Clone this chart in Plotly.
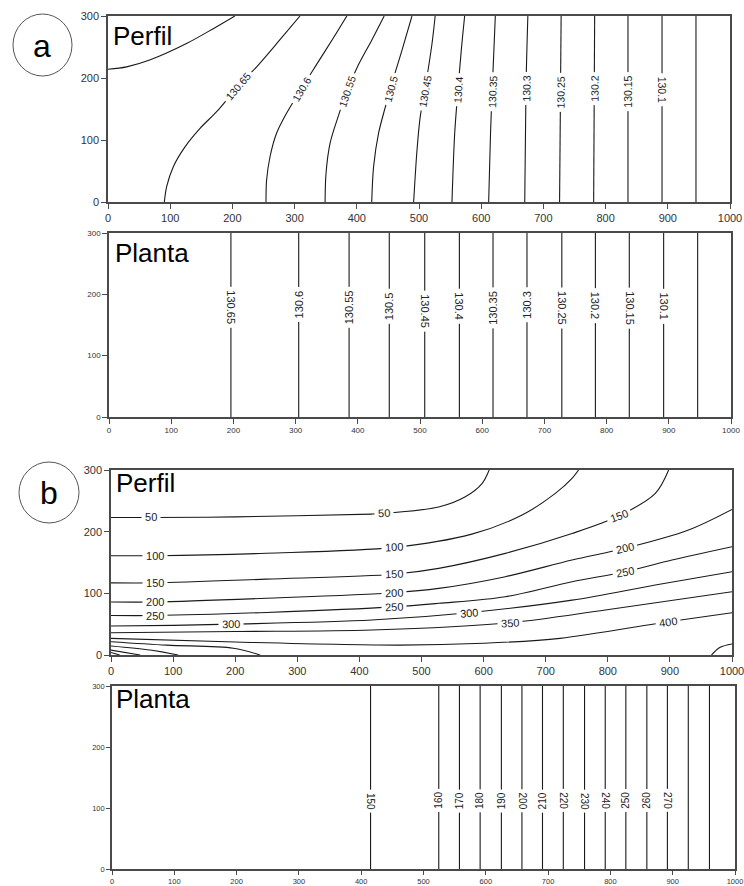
import math
import plotly.graph_objects as go

# ---------------- data ----------------
TICKS_X = [0, 100, 200, 300, 400, 500, 600, 700, 800, 900, 1000]
TICKS_Y = [0, 100, 200, 300]

# a) Perfil : contour lines (model x, y)
A1_LEVELS = ["130.7", "130.65", "130.6", "130.55", "130.5", "130.45", "130.4",
             "130.35", "130.3", "130.25", "130.2", "130.15", "130.1", "130.05"]
A1_X = [
    [0, 30, 67, 127, 170, 204],
    [90.6, 94.3, 105, 123.8, 148, 174.7, 209.5, 239, 273.8, 308.7],
    [254, 255, 260.5, 271, 287, 311, 338, 362, 384],
    [349, 350.5, 357, 370, 383.7, 403, 424, 444],
    [424, 427, 435, 446, 454, 472.7, 488.7],
    [491.4, 496.8, 502, 509, 521, 526],
    [553, 557.4, 562.7, 568, 573.4],
    [612, 615, 617.6, 622.7],
    [670, 672, 675],
    [726, 728.5],
    [780.8, 782.4],
    [836, 836],
    [890.7, 890.7],
    [945.3, 945.3],
]
A1_Y = [
    [214, 218, 229, 256, 280, 300],
    [0, 24.7, 57, 89, 118.8, 145.7, 187, 218, 258.5, 300],
    [0, 35.5, 73, 110.8, 143, 183, 226, 264, 300],
    [0, 46, 94.6, 137.6, 178, 222, 261, 300],
    [0, 57, 111, 153.7, 183, 245, 300],
    [0, 84, 137.6, 178, 256, 300],
    [0, 111, 181, 245, 300],
    [0, 111, 178, 300],
    [0, 183, 300],
    [0, 300],
    [0, 300],
    [0, 300],
    [0, 300],
    [0, 300],
]
A1_LABEL_TEXT = ["130.65", "130.6", "130.55", "130.5", "130.45", "130.4",
                 "130.35", "130.3", "130.25", "130.2", "130.15", "130.1"]
A1_LABEL_X = [209.5, 311, 383.7, 454, 509, 562.7, 617.6, 672, 727.5, 781.5, 836, 890.7]
A1_LABEL_Y = [187, 183, 178, 183, 178, 181, 178, 183, 176, 183, 178, 181]

# a) Planta : vertical contour lines
A2_LEVELS = ["130.65", "130.6", "130.55", "130.5", "130.45", "130.4", "130.35",
             "130.3", "130.25", "130.2", "130.15", "130.1", "130.05"]
A2_XPOS = [196, 305, 386, 450.6, 507.6, 563.3, 617.4, 672, 728, 782, 836.5, 891.7, 946.4]
A2_LABEL_TEXT = ["130.65", "130.6", "130.55", "130.5", "130.45", "130.4",
                 "130.35", "130.3", "130.25", "130.2", "130.15", "130.1"]
A2_LABEL_X = [196, 305, 386, 450.6, 507.6, 563.3, 617.4, 672, 728, 782, 836.5, 891.7]
A2_LABEL_Y = [179, 183, 179, 181, 173, 180, 178, 183, 178, 181, 177, 181]

# b) Perfil : contour lines (model x, y)
B1_LEVELS = ["50", "100", "150", "200", "250", "300", "350", "400",
             "450", "500", "550", "600", "450"]
B1_X = [
    [0, 65, 200, 420, 439, 527.7, 570.5, 597.4, 609],
    [0, 71, 250, 455, 581, 662, 715.5, 742.4, 753],
    [0, 71, 250, 455, 527.7, 635, 742.4, 817.5, 876.5, 898],
    [0, 71, 250, 455, 527.7, 635, 742.4, 828, 930, 1000],
    [0, 71, 250, 455, 527.7, 635, 742.4, 828, 903.4, 1000],
    [0, 100, 194, 420, 576, 742.4, 876.5, 1000],
    [0, 200, 420, 643, 796, 1000],
    [0, 200, 465, 600, 723, 897.5, 1000],
    [0, 90, 197, 240],
    [0, 63, 108],
    [0, 47],
    [0, 14],
    [967, 981, 1000],
]
B1_Y = [
    [223, 223, 224, 228.5, 229.6, 240, 256.6, 278, 300],
    [161, 161, 165, 174.5, 196, 227, 262, 286.4, 300],
    [117, 117, 123, 131, 140.5, 164.8, 197, 225.3, 262, 300],
    [86, 86, 92, 101, 108, 127, 154, 173, 202.6, 236],
    [64, 64, 69, 78, 83.8, 94.5, 118.8, 135, 154, 175.5],
    [47, 48, 50, 56.7, 68.6, 89, 113.5, 135],
    [36, 38, 40.5, 52.4, 73, 102.6],
    [27, 21, 16, 19, 27, 54, 68.6],
    [21.6, 16, 11, 0],
    [14.6, 8, 0],
    [8, 0],
    [4, 0],
    [0, 12.4, 17.8],
]
B1_LABEL_TEXT = ["50", "50", "100", "100", "150", "150", "150", "200", "200", "200",
                 "250", "250", "250", "300", "300", "350", "400"]
B1_LABEL_X = [65, 439, 71, 455, 71, 455, 817.5, 71, 455, 828, 71, 455, 828, 194, 576, 643, 897.5]
B1_LABEL_Y = [223, 229.6, 161, 174.5, 117, 131, 225.3, 86, 101, 173, 64, 78, 135, 50, 68.6, 52.4, 54]

# b) Planta : vertical contour lines
B2_LEVELS = ["150", "160", "170", "180", "190", "200", "210", "220", "230",
             "240", "250", "260", "270", "280", "290"]
B2_XPOS = [415, 524.5, 557.7, 590.9, 625, 658, 691, 724.4, 758.5, 791.7, 824.8,
           858.5, 891.5, 925, 959]
B2_LABEL_TEXT = ["150", "160", "170", "180", "190", "200", "210", "220", "230",
                 "240", "250", "260", "270"]
B2_LABEL_X = [415, 524.5, 557.7, 590.9, 625, 658, 691, 724.4, 758.5, 791.7, 824.8, 858.5, 891.5]
B2_LABEL_Y = [112] * 13

# ---------------- styling ----------------
W, H = 744, 886
FONT = "Liberation Sans, Arial, sans-serif"
LINE = "#1a1a1a"


def px_x(p):
    return p / W


def px_y(p):
    return 1 - p / H


# plot boxes in screen pixels: left, right, top, bottom
BOXES = [(108, 730, 16, 202), (109, 731, 233, 417), (111, 732, 470, 655), (112, 735, 686, 869)]
TICKFONT = [11, 8, 11, 7.5]
TICKLEN = [5, 5, 5, 4]
LABFONT = [10.5, 11, 11, 10]
# reading direction of labels: True -> top-to-bottom
A1_FLIP = [False] * 11 + [True]
A2_FLIP = [True, False, False, False, True, True, False, False, True, True, True, True]
B1_FLIP = [False] * 17
B2_FLIP = [True, False, False, False, False, True, False, True, True, True, False, False, True]

fig = go.Figure()


def ax_names(i):
    return ("x" if i == 1 else f"x{i}", "y" if i == 1 else f"y{i}")


def label_angle(xs_list, ys_list, lx, ly, sx, sy):
    best = None
    for xs, ys in zip(xs_list, ys_list):
        for k in range(len(xs) - 1):
            x0, y0, x1, y1 = xs[k] * sx, ys[k] * sy, xs[k + 1] * sx, ys[k + 1] * sy
            px, py = lx * sx, ly * sy
            dx, dy = x1 - x0, y1 - y0
            L2 = dx * dx + dy * dy or 1e-9
            t = max(0, min(1, ((px - x0) * dx + (py - y0) * dy) / L2))
            d = (x0 + t * dx - px) ** 2 + (y0 + t * dy - py) ** 2
            if best is None or d < best[0]:
                best = (d, dx, dy)
    _, dx, dy = best
    ang = math.degrees(math.atan2(-dy, dx))
    while ang >= 90:
        ang -= 180
    while ang < -90:
        ang += 180
    return ang


def add_panel(i, xs_list, ys_list, ltext, lx, ly, flips, smooth):
    xa, ya = ax_names(i)
    l, r, t, b = BOXES[i - 1]
    sx, sy = (r - l) / 1000.0, (b - t) / 300.0
    for xs, ys in zip(xs_list, ys_list):
        fig.add_trace(go.Scatter(
            x=xs, y=ys, mode="lines", xaxis=xa, yaxis=ya, showlegend=False,
            hoverinfo="skip",
            line=dict(color=LINE, width=1.1, shape="spline" if smooth else "linear",
                      smoothing=0.9)))
    for txt, x, y, fl in zip(ltext, lx, ly, flips):
        ang = label_angle(xs_list, ys_list, x, y, sx, sy)
        if fl:
            ang += 180
            if ang > 180:
                ang -= 360
        fig.add_annotation(
            x=x, y=y, xref=xa, yref=ya, text="\u00a0" + txt + "\u00a0",
            showarrow=False, textangle=ang, bgcolor="white", borderpad=0,
            font=dict(family=FONT, size=LABFONT[i - 1], color="#222"),
            xanchor="center", yanchor="middle")


add_panel(1, A1_X, A1_Y, A1_LABEL_TEXT, A1_LABEL_X, A1_LABEL_Y, A1_FLIP, True)
add_panel(2, [[x, x] for x in A2_XPOS], [[0, 300] for _ in A2_XPOS],
          A2_LABEL_TEXT, A2_LABEL_X, A2_LABEL_Y, A2_FLIP, False)
add_panel(3, B1_X, B1_Y, B1_LABEL_TEXT, B1_LABEL_X, B1_LABEL_Y, B1_FLIP, True)
add_panel(4, [[x, x] for x in B2_XPOS], [[0, 300] for _ in B2_XPOS],
          B2_LABEL_TEXT, B2_LABEL_X, B2_LABEL_Y, B2_FLIP, False)

layout = dict(width=W, height=H,
              margin=dict(l=0, r=0, t=0, b=0, pad=0, autoexpand=False),
              paper_bgcolor="white", plot_bgcolor="white", autosize=False)
for i, (l, r, t, b) in enumerate(BOXES, start=1):
    xa, ya = ax_names(i)
    common = dict(showline=True, mirror=True, linecolor="#4a4a4a", linewidth=1.6,
                  ticks="outside", ticklen=TICKLEN[i - 1], tickwidth=1.3, tickcolor="#4a4a4a",
                  showgrid=False, zeroline=False, automargin=False,
                  ticklabeloverflow="allow",
                  tickfont=dict(family=FONT, size=TICKFONT[i - 1], color="#333"))
    layout["xaxis" if i == 1 else f"xaxis{i}"] = dict(
        domain=[px_x(l), px_x(r)], range=[0, 1000], anchor=ya, tickvals=TICKS_X, **common)
    layout["yaxis" if i == 1 else f"yaxis{i}"] = dict(
        domain=[px_y(b), px_y(t)], range=[0, 300], anchor=xa, tickvals=TICKS_Y, **common)
fig.update_layout(**layout)

# panel titles
for txt, (px, py) in [("Perfil", (111, 36)), ("Planta", (113, 253)),
                      ("Perfil", (114, 483)), ("Planta", (114, 699))]:
    fig.add_annotation(x=px_x(px), y=px_y(py), xref="paper", yref="paper", text=txt,
                       showarrow=False, xanchor="left", yanchor="middle",
                       font=dict(family=FONT, size=26, color="black"))

# circled letters
for txt, (x0, y0, x1, y1), (cx, cy) in [("a", (13, 14, 72, 76), (42, 46)),
                                       ("b", (19, 462, 79, 523), (49, 493))]:
    fig.add_shape(type="circle", xref="paper", yref="paper",
                  x0=px_x(x0), x1=px_x(x1), y0=px_y(y1), y1=px_y(y0),
                  line=dict(color="#555", width=1))
    fig.add_annotation(x=px_x(cx), y=px_y(cy), xref="paper", yref="paper", text=txt,
                       showarrow=False, xanchor="center", yanchor="middle",
                       font=dict(family=FONT, size=32, color="black"))

fig.write_html("out.html",
               config={"displayModeBar": False},
               post_script="document.body.style.margin='0';"
                           "document.body.style.overflow='hidden';")
